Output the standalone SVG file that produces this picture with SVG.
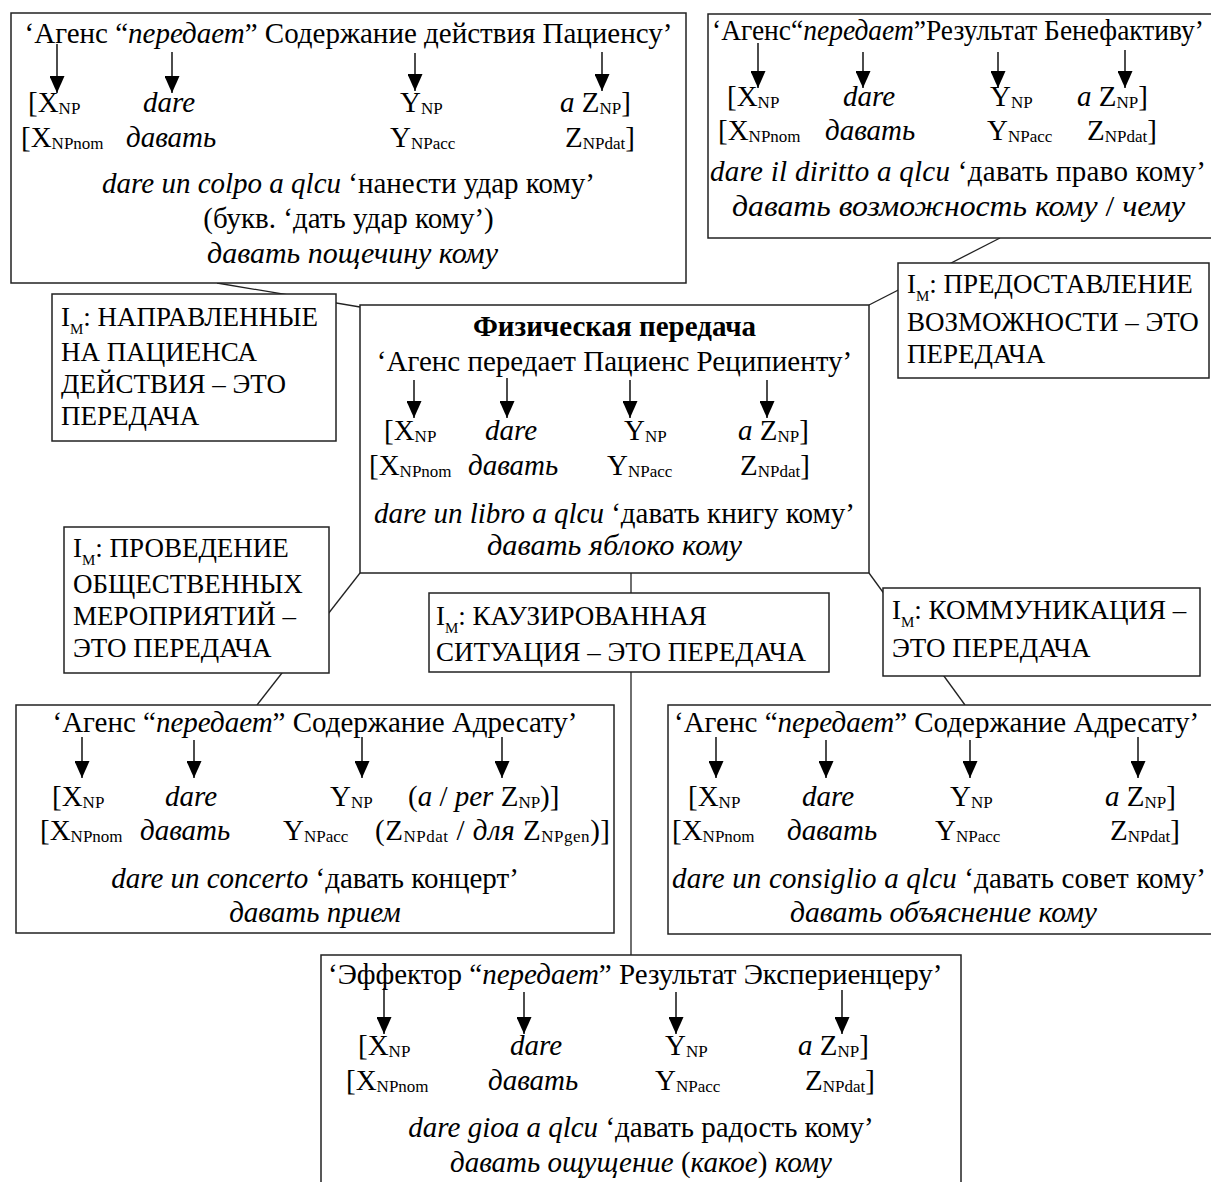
<svg xmlns="http://www.w3.org/2000/svg" width="1211" height="1182" viewBox="0 0 1211 1182">
<style>
text{font-family:"Liberation Serif","Times New Roman",serif;font-size:29px;fill:#000}
.i{font-style:italic}
.b{font-weight:bold}
.s{font-size:17px}
.m{font-size:15px}
.im{font-size:27px}
.box{fill:#fff;stroke:#222;stroke-width:1.5}
.conn{stroke:#222;stroke-width:1.3;fill:none}
.arr{stroke:#000;stroke-width:1.4;marker-end:url(#ah)}
</style>
<defs>
<marker id="ah" viewBox="0 0 17 15" refX="17" refY="7.5" markerWidth="17" markerHeight="15" markerUnits="userSpaceOnUse" orient="auto">
<path d="M0,0 L17,7.5 L0,15 z" fill="#000"/>
</marker>
</defs>
<rect width="1211" height="1182" fill="#fff"/>

<g id="connectors">
<line class="conn" x1="217" y1="283" x2="360" y2="307"/>
<line class="conn" x1="1000" y1="238" x2="869" y2="305"/>
<line class="conn" x1="360" y1="573" x2="257" y2="705"/>
<line class="conn" x1="631" y1="573" x2="631" y2="955"/>
<line class="conn" x1="869" y1="573" x2="965" y2="705"/>
</g>

<g id="node-top-left">
<rect class="box" x="11" y="13" width="675" height="270"/>
<text x="348.5" y="43" text-anchor="middle">‘Агенс “<tspan class="i">передает</tspan>” Содержание действия Пациенсу’</text>
<line class="arr" x1="57" y1="44" x2="57" y2="93"/>
<line class="arr" x1="172" y1="52" x2="172" y2="93"/>
<line class="arr" x1="415" y1="53" x2="415" y2="91"/>
<line class="arr" x1="602" y1="52" x2="602" y2="91"/>
<text x="28" y="112">[X<tspan class="s" dy="2">NP</tspan></text>
<text class="i" x="143" y="112">dare</text>
<text x="400" y="112">Y<tspan class="s" dy="2">NP</tspan></text>
<text x="560" y="112"><tspan class="i">a</tspan> Z<tspan class="s" dy="2">NP</tspan><tspan dy="-2">]</tspan></text>
<text x="21" y="147">[X<tspan class="s" dy="2">NPnom</tspan></text>
<text class="i" x="126" y="147">давать</text>
<text x="390" y="147">Y<tspan class="s" dy="2">NPacc</tspan></text>
<text x="565" y="147">Z<tspan class="s" dy="2">NPdat</tspan><tspan dy="-2">]</tspan></text>
<text x="348.5" y="193" text-anchor="middle"><tspan class="i">dare un colpo a qlcu</tspan> ‘нанести удар кому’</text>
<text x="348.5" y="228" text-anchor="middle">(букв. ‘дать удар кому’)</text>
<text class="i" x="207" y="263" textLength="291" lengthAdjust="spacingAndGlyphs">давать пощечину кому</text>
</g>

<g id="node-top-right">
<rect class="box" x="708" y="14" width="510" height="224"/>
<text x="712" y="40" textLength="492" lengthAdjust="spacingAndGlyphs">‘Агенс“<tspan class="i">передает</tspan>”Результат Бенефактиву’</text>
<line class="arr" x1="758" y1="43" x2="758" y2="88"/>
<line class="arr" x1="863" y1="52" x2="863" y2="88"/>
<line class="arr" x1="998" y1="52" x2="998" y2="88"/>
<line class="arr" x1="1125" y1="50" x2="1125" y2="88"/>
<text x="727" y="106">[X<tspan class="s" dy="2">NP</tspan></text>
<text class="i" x="843" y="106">dare</text>
<text x="990" y="106">Y<tspan class="s" dy="2">NP</tspan></text>
<text x="1077" y="106"><tspan class="i">a</tspan> Z<tspan class="s" dy="2">NP</tspan><tspan dy="-2">]</tspan></text>
<text x="718" y="140">[X<tspan class="s" dy="2">NPnom</tspan></text>
<text class="i" x="825" y="140">давать</text>
<text x="987" y="140">Y<tspan class="s" dy="2">NPacc</tspan></text>
<text x="1087" y="140">Z<tspan class="s" dy="2">NPdat</tspan><tspan dy="-2">]</tspan></text>
<text x="710" y="181" textLength="496" lengthAdjust="spacing"><tspan class="i">dare il diritto a qlcu</tspan> ‘давать право кому’</text>
<text x="732" y="216" textLength="453" lengthAdjust="spacingAndGlyphs"><tspan class="i">давать возможность кому</tspan> / <tspan class="i">чему</tspan></text>
</g>

<g id="node-im-patient">
<rect class="box" x="52" y="294" width="284" height="147"/>
<text class="im" x="61" y="326">I<tspan class="m" dy="8">М</tspan><tspan dy="-8">: НАПРАВЛЕННЫЕ</tspan></text>
<text class="im" x="61" y="361">НА ПАЦИЕНСА</text>
<text class="im" x="61" y="393">ДЕЙСТВИЯ – ЭТО</text>
<text class="im" x="61" y="425">ПЕРЕДАЧА</text>
</g>

<g id="node-im-possibility">
<rect class="box" x="898" y="263" width="311" height="115"/>
<text class="im" x="907" y="293">I<tspan class="m" dy="8">М</tspan><tspan dy="-8">: ПРЕДОСТАВЛЕНИЕ</tspan></text>
<text class="im" x="907" y="331">ВОЗМОЖНОСТИ – ЭТО</text>
<text class="im" x="907" y="363">ПЕРЕДАЧА</text>
</g>

<g id="node-central">
<rect class="box" x="360" y="305" width="509" height="268"/>
<text class="b" x="614.5" y="336" text-anchor="middle">Физическая передача</text>
<text x="614.5" y="371" text-anchor="middle">‘Агенс передает Пациенс Реципиенту’</text>
<line class="arr" x1="414" y1="380" x2="414" y2="418"/>
<line class="arr" x1="507" y1="378" x2="507" y2="418"/>
<line class="arr" x1="630" y1="380" x2="630" y2="418"/>
<line class="arr" x1="767" y1="380" x2="767" y2="418"/>
<text x="384" y="440">[X<tspan class="s" dy="2">NP</tspan></text>
<text class="i" x="485" y="440">dare</text>
<text x="624" y="440">Y<tspan class="s" dy="2">NP</tspan></text>
<text x="738" y="440"><tspan class="i">a</tspan> Z<tspan class="s" dy="2">NP</tspan><tspan dy="-2">]</tspan></text>
<text x="369" y="475">[X<tspan class="s" dy="2">NPnom</tspan></text>
<text class="i" x="468" y="475">давать</text>
<text x="607" y="475">Y<tspan class="s" dy="2">NPacc</tspan></text>
<text x="740" y="475">Z<tspan class="s" dy="2">NPdat</tspan><tspan dy="-2">]</tspan></text>
<text x="614.5" y="523" text-anchor="middle"><tspan class="i">dare un libro a qlcu</tspan> ‘давать книгу кому’</text>
<text class="i" x="487" y="555" textLength="255" lengthAdjust="spacingAndGlyphs">давать яблоко кому</text>
</g>

<g id="node-im-events">
<rect class="box" x="64" y="527" width="265" height="146"/>
<text class="im" x="73" y="557">I<tspan class="m" dy="8">М</tspan><tspan dy="-8">: ПРОВЕДЕНИЕ</tspan></text>
<text class="im" x="73" y="593">ОБЩЕСТВЕННЫХ</text>
<text class="im" x="73" y="625">МЕРОПРИЯТИЙ –</text>
<text class="im" x="73" y="657">ЭТО ПЕРЕДАЧА</text>
</g>

<g id="node-im-caused">
<rect class="box" x="429" y="593" width="400" height="79"/>
<text class="im" x="436" y="625">I<tspan class="m" dy="8">М</tspan><tspan dy="-8">: КАУЗИРОВАННАЯ</tspan></text>
<text class="im" x="436" y="661">СИТУАЦИЯ – ЭТО ПЕРЕДАЧА</text>
</g>

<g id="node-im-communication">
<rect class="box" x="883" y="588" width="317" height="88"/>
<text class="im" x="892" y="619">I<tspan class="m" dy="8">М</tspan><tspan dy="-8">: КОММУНИКАЦИЯ –</tspan></text>
<text class="im" x="892" y="657">ЭТО ПЕРЕДАЧА</text>
</g>

<g id="node-bottom-left">
<rect class="box" x="16" y="705" width="598" height="228"/>
<text x="315" y="732" text-anchor="middle">‘Агенс “<tspan class="i">передает</tspan>” Содержание Адресату’</text>
<line class="arr" x1="82" y1="737" x2="82" y2="778"/>
<line class="arr" x1="194" y1="740" x2="194" y2="778"/>
<line class="arr" x1="362" y1="737" x2="362" y2="778"/>
<line class="arr" x1="502" y1="737" x2="502" y2="778"/>
<text x="52" y="806">[X<tspan class="s" dy="2">NP</tspan></text>
<text class="i" x="165" y="806">dare</text>
<text x="330" y="806">Y<tspan class="s" dy="2">NP</tspan></text>
<text x="408" y="806">(<tspan class="i">a</tspan> / <tspan class="i">per</tspan> Z<tspan class="s" dy="2">NP</tspan><tspan dy="-2">)]</tspan></text>
<text x="40" y="840">[X<tspan class="s" dy="2">NPnom</tspan></text>
<text class="i" x="140" y="840">давать</text>
<text x="283" y="840">Y<tspan class="s" dy="2">NPacc</tspan></text>
<text x="375" y="840" textLength="235" lengthAdjust="spacing">(Z<tspan class="s" dy="2">NPdat</tspan><tspan dy="-2"> / </tspan><tspan class="i">для</tspan> Z<tspan class="s" dy="2">NPgen</tspan><tspan dy="-2">)]</tspan></text>
<text x="315" y="888" text-anchor="middle"><tspan class="i">dare un concerto</tspan> ‘давать концерт’</text>
<text class="i" x="315" y="922" text-anchor="middle">давать прием</text>
</g>

<g id="node-bottom-right">
<rect class="box" x="668" y="705" width="550" height="229"/>
<text x="674" y="732">‘Агенс “<tspan class="i">передает</tspan>” Содержание Адресату’</text>
<line class="arr" x1="716" y1="737" x2="716" y2="778"/>
<line class="arr" x1="826" y1="740" x2="826" y2="778"/>
<line class="arr" x1="970" y1="740" x2="970" y2="778"/>
<line class="arr" x1="1138" y1="737" x2="1138" y2="778"/>
<text x="688" y="806">[X<tspan class="s" dy="2">NP</tspan></text>
<text class="i" x="802" y="806">dare</text>
<text x="950" y="806">Y<tspan class="s" dy="2">NP</tspan></text>
<text x="1105" y="806"><tspan class="i">a</tspan> Z<tspan class="s" dy="2">NP</tspan><tspan dy="-2">]</tspan></text>
<text x="672" y="840">[X<tspan class="s" dy="2">NPnom</tspan></text>
<text class="i" x="787" y="840">давать</text>
<text x="935" y="840">Y<tspan class="s" dy="2">NPacc</tspan></text>
<text x="1110" y="840">Z<tspan class="s" dy="2">NPdat</tspan><tspan dy="-2">]</tspan></text>
<text x="672" y="888" textLength="534" lengthAdjust="spacing"><tspan class="i">dare un consiglio a qlcu</tspan> ‘давать совет кому’</text>
<text class="i" x="790" y="922" textLength="307" lengthAdjust="spacingAndGlyphs">давать объяснение кому</text>
</g>

<g id="node-bottom-center">
<rect class="box" x="321" y="955" width="640" height="240"/>
<text x="328" y="984">‘Эффектор “<tspan class="i">передает</tspan>” Результат Экспериенцеру’</text>
<line class="arr" x1="384" y1="988" x2="384" y2="1034"/>
<line class="arr" x1="524" y1="992" x2="524" y2="1034"/>
<line class="arr" x1="676" y1="992" x2="676" y2="1034"/>
<line class="arr" x1="842" y1="990" x2="842" y2="1034"/>
<text x="358" y="1055">[X<tspan class="s" dy="2">NP</tspan></text>
<text class="i" x="510" y="1055">dare</text>
<text x="665" y="1055">Y<tspan class="s" dy="2">NP</tspan></text>
<text x="798" y="1055"><tspan class="i">a</tspan> Z<tspan class="s" dy="2">NP</tspan><tspan dy="-2">]</tspan></text>
<text x="346" y="1090">[X<tspan class="s" dy="2">NPnom</tspan></text>
<text class="i" x="488" y="1090">давать</text>
<text x="655" y="1090">Y<tspan class="s" dy="2">NPacc</tspan></text>
<text x="805" y="1090">Z<tspan class="s" dy="2">NPdat</tspan><tspan dy="-2">]</tspan></text>
<text x="641" y="1137" text-anchor="middle"><tspan class="i">dare gioa a qlcu</tspan> ‘давать радость кому’</text>
<text x="641" y="1172" text-anchor="middle"><tspan class="i">давать ощущение</tspan> (<tspan class="i">какое</tspan>) <tspan class="i">кому</tspan></text>
</g>
</svg>
